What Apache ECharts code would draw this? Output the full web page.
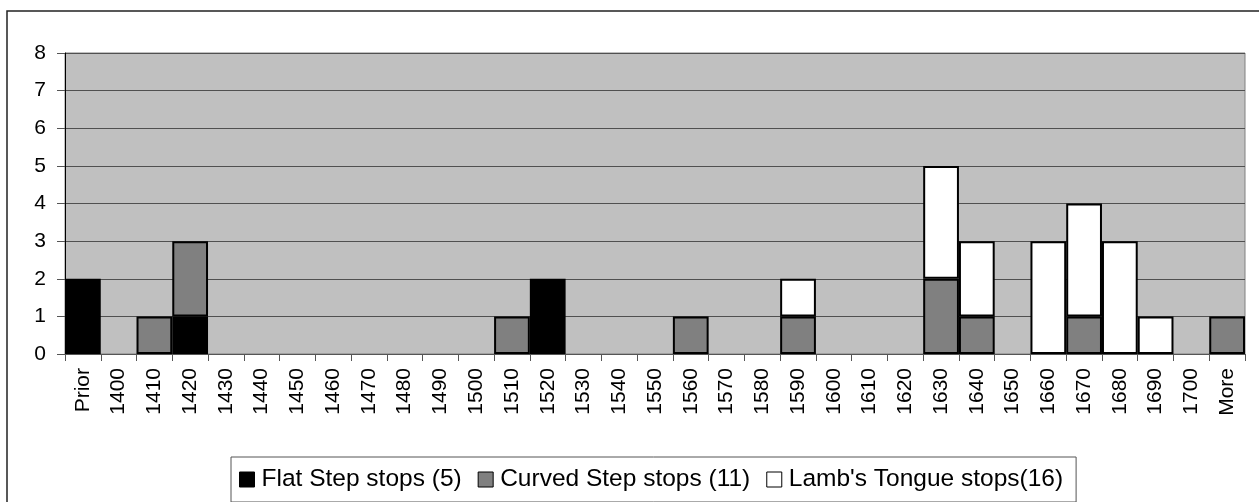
<!DOCTYPE html>
<html>
<head>
<meta charset="utf-8">
<script src="https://cdn.jsdelivr.net/npm/echarts@6/dist/echarts.min.js"></script>
<style>
  html, body { margin: 0; padding: 0; background: #ffffff; }
  #chart { width: 1259px; height: 502px; }
</style>
</head>
<body>
<div id="chart"></div>
<script>
// Decade bins of dated stops
const categories = ['Prior', '1400', '1410', '1420', '1430', '1440', '1450', '1460', '1470', '1480',
  '1490', '1500', '1510', '1520', '1530', '1540', '1550', '1560', '1570', '1580', '1590', '1600',
  '1610', '1620', '1630', '1640', '1650', '1660', '1670', '1680', '1690', '1700', 'More'];

const flatStep   = [2, 0, 0, 1, 0, 0, 0, 0, 0, 0, 0, 0, 0, 2, 0, 0, 0, 0, 0, 0, 0, 0, 0, 0, 0, 0, 0, 0, 0, 0, 0, 0, 0];
const curvedStep = [0, 0, 1, 2, 0, 0, 0, 0, 0, 0, 0, 0, 1, 0, 0, 0, 0, 1, 0, 0, 1, 0, 0, 0, 2, 1, 0, 0, 1, 0, 0, 0, 1];
const lambTongue = [0, 0, 0, 0, 0, 0, 0, 0, 0, 0, 0, 0, 0, 0, 0, 0, 0, 0, 0, 0, 1, 0, 0, 0, 3, 2, 0, 3, 3, 3, 1, 0, 0];

const seriesNames = ['Flat Step stops (5)', 'Curved Step stops (11)', "Lamb's Tongue stops(16)"];
const yTicks = [0, 8, 1]; // min, max, interval

const FONT = 'Liberation Sans, Arial, sans-serif';

// empty bins are left out so no zero-height outline is drawn
const nz = arr => arr.map(v => (v === 0 ? null : v));

function barSeries(name, data, color) {
  return {
    name: name,
    type: 'bar',
    stack: 'stops',
    barCategoryGap: 0,
    data: nz(data),
    itemStyle: { color: color, borderColor: '#000000', borderWidth: 2 },
    emphasis: { disabled: true }
  };
}

const chart = echarts.init(document.getElementById('chart'), null, { renderer: 'canvas' });
chart.setOption({
  animation: false,
  backgroundColor: '#ffffff',
  textStyle: { fontFamily: FONT },
  graphic: [{
    type: 'rect',
    shape: { x: 7, y: 11, width: 1270, height: 520 },
    style: { fill: 'none', stroke: '#222222', lineWidth: 1.5 },
    z: -1
  }],
  grid: {
    left: 65, right: 14, top: 53, bottom: 148,
    show: true, backgroundColor: '#c0c0c0',
    borderColor: '#808080', borderWidth: 1
  },
  legend: {
    left: 231, top: 457,
    data: seriesNames,
    icon: 'rect',
    itemWidth: 15, itemHeight: 15, itemGap: 16,
    padding: [10, 13, 10, 8],
    borderColor: '#555555', borderWidth: 1,
    selectedMode: false,
    textStyle: { fontFamily: FONT, fontSize: 24.5, color: '#000000', padding: [0, 0, 0, 2] },
    itemStyle: { borderColor: '#000000', borderWidth: 1 }
  },
  xAxis: {
    type: 'category',
    data: categories,
    boundaryGap: true,
    axisLine: { show: true, lineStyle: { color: '#555555', width: 1 } },
    axisTick: { show: true, length: 7, alignWithLabel: false, lineStyle: { color: '#555555' } },
    axisLabel: { rotate: 90, interval: 0, margin: 14, fontSize: 21, color: '#000000', fontFamily: FONT }
  },
  yAxis: {
    type: 'value',
    min: yTicks[0], max: yTicks[1], interval: yTicks[2],
    axisLine: { show: true, lineStyle: { color: '#000000', width: 1 } },
    axisTick: { show: true, length: 8, lineStyle: { color: '#555555' } },
    axisLabel: { fontSize: 21, color: '#000000', margin: 19, fontFamily: FONT },
    splitLine: { show: true, lineStyle: { color: '#505050', width: 1.2 } }
  },
  series: [
    barSeries(seriesNames[0], flatStep, '#000000'),
    barSeries(seriesNames[1], curvedStep, '#808080'),
    barSeries(seriesNames[2], lambTongue, '#ffffff')
  ]
});
</script>
</body>
</html>
